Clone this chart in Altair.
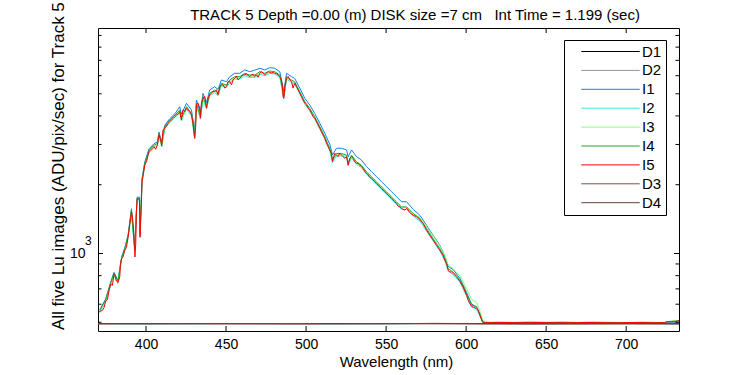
import altair as alt
import pandas as pd

FONT = "Liberation Sans, Arial, Helvetica, sans-serif"

series_names = ["D1", "D2", "I1", "I2", "I3", "I4", "I5", "D3", "D4"]
series_colors = ["#000000", "#969696", "#1080f0", "#40e8f0", "#80ff80",
                 "#18aa28", "#ff0000", "#805048", "#6e3c3c"]

title_text = "TRACK 5 Depth =0.00 (m) DISK size =7 cm\u00a0\u00a0 Int Time = 1.199 (sec)"
x_title = "Wavelength (nm)"
y_title = "All five Lu images (ADU/pix/sec) for Track 5"

x_ticks = [400, 450, 500, 550, 600, 650, 700]
y_major = [1000]
y_minor = [500, 600, 700, 800, 900, 2000, 3000, 4000, 5000, 6000, 7000, 8000, 9000]

# ---- I5 (red), read finely ----
wl_i5 = [
    370.5, 371.1, 372.8, 373.8, 374.8, 375.9, 376.9, 377.9, 379.0, 380.0,
    380.6, 381.5, 382.5, 383.6, 384.0, 384.8, 385.6, 386.7, 387.8, 388.8,
    389.8, 390.9, 391.5, 392.1, 392.9, 393.1, 393.6, 394.0, 394.4, 395.0,
    395.9, 396.3, 396.7, 397.1, 397.5, 398.4, 399.2, 400.3, 401.3, 401.9,
    402.9, 404.0, 405.0, 406.0, 407.1, 408.1, 409.2, 409.8, 410.6, 411.7,
    412.8, 413.8, 414.8, 416.0, 417.1, 418.1, 419.2, 420.3, 421.1, 422.1,
    423.1, 424.2, 425.3, 426.3, 427.3, 428.4, 429.4, 430.0, 430.4, 431.1,
    431.5, 432.5, 433.6, 434.0, 434.6, 435.6, 436.7, 437.8, 438.8, 439.8,
    440.9, 441.9, 442.9, 444.0, 445.0, 446.1, 447.1, 448.1, 449.2, 450.3,
    451.3, 452.3, 453.4, 454.4, 455.4, 456.5, 457.5, 458.6, 459.6, 460.6,
    461.7, 462.8, 463.8, 464.8, 465.9, 466.9, 467.9, 469.0, 470.0, 471.1,
    472.1, 473.1, 474.2, 475.3, 476.3, 477.3, 478.4, 479.4, 480.4, 481.5,
    482.5, 483.6, 484.6, 485.3, 485.6, 486.1, 486.7, 487.8, 488.8, 489.8,
    490.9, 491.9, 492.9, 494.0, 495.0, 496.1, 497.1, 498.1, 499.2, 500.3,
    501.3, 502.3, 503.4, 504.4, 505.4, 506.5, 507.5, 508.6, 509.6, 510.6,
    511.7, 512.8, 513.8, 514.8, 515.9, 516.5, 517.3, 517.9, 519.0, 520.0,
    521.1, 522.1, 523.1, 524.2, 525.3, 526.3, 527.3, 528.4, 529.4, 530.4,
    531.5, 532.5, 533.6, 534.6, 535.6, 536.7, 537.8, 538.8, 539.8, 540.9,
    541.9, 542.9, 544.0, 545.0, 546.1, 547.1, 548.1, 549.2, 550.3, 551.3,
    552.3, 553.4, 554.4, 555.4, 556.5, 557.5, 558.6, 559.6, 560.6, 561.7,
    562.8, 563.8, 564.8, 566.9, 569.0, 571.1, 573.1, 575.3, 577.3, 579.4,
    581.5, 583.6, 585.6, 586.7, 587.8, 588.8, 589.8, 590.9, 591.9, 594.0,
    596.1, 598.1, 600.3, 601.3, 602.3, 603.4, 604.4, 605.4, 606.5, 607.5,
    608.6, 609.6, 610.3, 610.6, 615, 625, 635, 645, 655, 665,
    675, 685, 695, 705, 715, 724, 725, 731, 733,
]
i5 = [
    553, 557, 564, 580, 620, 628, 690, 733, 726, 811,
    798, 758, 746, 790, 898, 951, 966, 1034, 1063, 1182,
    1331, 1522, 1447, 1308, 1034, 966, 1110, 1522, 1713, 1743,
    1713, 1182, 1447, 1657, 2061, 2243, 2439, 2522, 2699, 2790,
    2839, 2888, 2935, 2858, 2985, 3303, 3141, 2955, 3474, 3534,
    3617, 3717, 3777, 3842, 3909, 3973, 4042, 4083, 4179, 3842,
    4251, 4179, 4325, 4251, 4179, 4042, 3717, 3360, 3195, 3654,
    4471, 4549, 4325, 3909, 4549, 4784, 4862, 4325, 4784, 4946,
    5032, 5114, 5114, 5202, 4946, 5378, 5471, 5471, 5292, 5378,
    5656, 5656, 5471, 5754, 5853, 5949, 5754, 5853, 5949, 6053,
    6053, 6096, 6010, 5949, 6053, 6096, 5949, 6053, 5900, 6158,
    6258, 6158, 6053, 6158, 6258, 6195, 6158, 6195, 6158, 6115,
    6053, 5949, 5754, 5378, 4862, 4784, 5378, 5853, 5949, 5754,
    5656, 5292, 5560, 5378, 5202, 5032, 4862, 4703, 4549, 4471,
    4325, 4251, 4110, 3973, 3909, 3777, 3654, 3534, 3417, 3303,
    3195, 3034, 2935, 2839, 2746, 2522, 2653, 2746, 2699, 2653,
    2746, 2699, 2653, 2610, 2653, 2439, 2610, 2653, 2610, 2522,
    2481, 2481, 2439, 2398, 2360, 2280, 2243, 2205, 2154, 2133,
    2097, 2061, 2028, 1993, 1960, 1928, 1895, 1863, 1833, 1802,
    1771, 1743, 1713, 1684, 1657, 1612, 1601, 1575, 1560, 1549,
    1575, 1549, 1510, 1472, 1447, 1400, 1354, 1265, 1203, 1144,
    1087, 1034, 983, 935, 904, 845, 830, 830, 817, 790,
    757, 714, 656, 624, 604, 587, 583, 580, 574, 564,
    536, 514, 501, 498, 498, 499, 498, 499, 498, 498,
    499, 498, 498, 499, 498, 498, 502, 503, 509,
]

# ---- I1..I4, read at a coarser spacing ----
wl_i = [
    371.1, 374.8, 377.9, 380.0, 382.5, 384.8, 386.7, 388.8, 390.9, 392.9,
    394.4, 395.9, 396.3, 397.5, 399.2, 401.9, 405.0, 407.1, 408.1, 409.8,
    411.7, 414.8, 418.1, 421.1, 422.1, 425.3, 428.4, 430.4, 431.5, 434.0,
    435.6, 437.8, 439.8, 442.9, 445.0, 447.1, 450.3, 452.3, 455.4, 458.6,
    461.7, 464.8, 467.9, 471.1, 474.2, 477.3, 480.4, 483.6, 486.1, 487.8,
    490.9, 492.9, 496.1, 499.2, 502.3, 505.4, 508.6, 511.7, 514.8, 516.5,
    519.0, 522.1, 525.3, 526.3, 528.4, 531.5, 534.6, 537.8, 540.9, 544.0,
    547.1, 550.3, 553.4, 556.5, 559.6, 562.8, 566.9, 571.1, 575.3, 579.4,
    583.6, 586.7, 588.8, 591.9, 596.1, 600.3, 603.4, 606.5, 608.6, 610.3,
    612, 615, 620, 630, 640, 650, 660, 670, 680, 690,
    700, 710, 720, 724, 726, 730, 733,
]
i1 = [
    568, 632, 748, 827, 761, 970, 1055, 1206, 1568, 1075,
    1764, 1764, 1240, 2123, 2512, 2874, 3023, 3075, 3402, 3073,
    3640, 3890, 4092, 4388, 4070, 4541, 4244, 3450, 4695, 4140,
    5023, 4580, 5193, 5370, 5220, 5745, 5647, 5939, 6146, 6146,
    6356, 6246, 6340, 6466, 6356, 6505, 6466, 6246, 5100, 6146,
    5939, 5838, 5284, 4776, 4464, 4104, 3711, 3355, 3010, 2700,
    2888, 2888, 2839, 2650, 2839, 2655, 2566, 2400, 2282, 2170,
    2063, 1961, 1865, 1773, 1685, 1685, 1560, 1470, 1328, 1201,
    1086, 972, 879, 850, 780, 676, 601, 585, 541, 503,
    498, 498, 497, 498, 498, 497, 498, 498, 497, 498,
    498, 497, 498, 498, 499, 499, 500,
]
i2 = [
    552, 614, 726, 803, 739, 942, 1024, 1170, 1507, 1024,
    1696, 1696, 1170, 2040, 2415, 2762, 2906, 2955, 3270, 2925,
    3499, 3739, 3933, 4137, 3804, 4282, 4002, 3163, 4426, 3870,
    4736, 4282, 4897, 5063, 4897, 5416, 5324, 5599, 5794, 5794,
    5992, 5890, 5890, 6096, 5992, 6133, 6096, 5890, 4736, 5794,
    5599, 5504, 4982, 4504, 4208, 3870, 3499, 3163, 2811, 2497,
    2672, 2672, 2626, 2415, 2626, 2456, 2374, 2221, 2112, 2008,
    1909, 1815, 1726, 1640, 1559, 1559, 1457, 1386, 1252, 1133,
    1024, 926, 837, 809, 749, 650, 583, 571, 533, 499,
    497, 497, 498, 497, 497, 498, 497, 497, 498, 497,
    497, 498, 497, 497, 498, 498, 499,
]
i3 = [
    557, 620, 735, 810, 748, 955, 1036, 1185, 1530, 1040,
    1720, 1718, 1190, 2068, 2445, 2800, 2940, 2990, 3310, 2960,
    3540, 3785, 3980, 4190, 3850, 4335, 4050, 3200, 4480, 3920,
    4795, 4335, 4960, 5125, 4960, 5485, 5390, 5670, 5865, 5865,
    6065, 5960, 5960, 6170, 6065, 6210, 6170, 5960, 4795, 5865,
    5670, 5570, 5045, 4560, 4260, 3920, 3545, 3205, 2845, 2530,
    2705, 2705, 2660, 2445, 2660, 2488, 2405, 2250, 2140, 2035,
    1935, 1840, 1750, 1665, 1585, 1590, 1500, 1440, 1310, 1190,
    1080, 980, 890, 858, 800, 700, 630, 612, 560, 510,
    503, 500, 503, 499, 505, 500, 504, 499, 503, 500,
    498, 502, 499, 500, 504, 506, 507,
]
i4 = [
    563, 628, 742, 822, 756, 962, 1048, 1198, 1545, 1055,
    1738, 1740, 1210, 2092, 2476, 2832, 2980, 3030, 3352, 3010,
    3587, 3834, 4033, 4242, 3920, 4390, 4103, 3280, 4538, 3980,
    4856, 4400, 5020, 5190, 5020, 5553, 5459, 5741, 5941, 5941,
    6144, 6038, 6038, 6250, 6144, 6288, 6250, 6038, 4870, 5940,
    5741, 5643, 5107, 4617, 4315, 3968, 3587, 3243, 2882, 2570,
    2740, 2740, 2693, 2480, 2693, 2518, 2434, 2277, 2165, 2058,
    1957, 1860, 1769, 1682, 1599, 1599, 1494, 1421, 1284, 1161,
    1050, 949, 858, 829, 768, 666, 596, 583, 544, 503,
    499, 498, 499, 498, 499, 498, 499, 498, 499, 498,
    498, 499, 498, 499, 503, 506, 508,
]

# ---- dark frames ----
wl_dark = [370, 400, 430, 460, 490, 520, 550, 580, 610, 640, 670, 700, 733]
d1 = [493, 492, 493, 494, 493, 492, 493, 494, 493, 492, 493, 493, 492]
d2 = [492, 493, 492, 493, 494, 493, 492, 495, 493, 493, 492, 494, 493]
d3 = [493, 493, 494, 492, 493, 493, 494, 493, 492, 493, 494, 493, 493]
d4 = [493, 494, 493, 493, 492, 494, 493, 493, 494, 493, 492, 493, 494]

series_data = {
    "D1": (wl_dark, d1), "D2": (wl_dark, d2),
    "I1": (wl_i, i1), "I2": (wl_i, i2), "I3": (wl_i, i3), "I4": (wl_i, i4),
    "I5": (wl_i5, i5),
    "D3": (wl_dark, d3), "D4": (wl_dark, d4),
}

frames = []
for name in series_names:
    wl, vals = series_data[name]
    assert len(wl) == len(vals), name
    frames.append(pd.DataFrame({"wl": wl, "val": vals, "series": name}))
df = pd.concat(frames, ignore_index=True)

W, H = 581, 303
x_scale = alt.Scale(domain=[370, 733], nice=False, zero=False)
y_scale = alt.Scale(type="log", domain=[458, 9700], nice=False)
color_scale = alt.Scale(domain=series_names, range=series_colors)

legend = alt.Legend(
    orient="none", legendX=466, legendY=12, title=None,
    symbolType="M-6,0H6", symbolSize=95, symbolStrokeWidth=1,
    symbolOffset=35, labelOffset=24, labelFontSize=15, labelFont=FONT,
    labelColor="black", rowPadding=2.9, padding=4,
    strokeColor="black", fillColor="white", cornerRadius=0,
)

x_axis = alt.Axis(
    values=x_ticks, title=x_title, grid=False, domain=False, ticks=False,
    tickSize=0, labelPadding=6, labelFontSize=14, labelFont=FONT,
    labelColor="black", titleFontSize=15, titleFont=FONT,
    titleFontWeight="normal", titleColor="black", titleX=298, titleY=35,
    titleBaseline="alphabetic", titleAlign="center", format="d",
)
y_axis = alt.Axis(
    values=y_major, labelExpr="'10'", title=None, grid=False, domain=False,
    ticks=False, tickSize=0, labelPadding=13, labelFontSize=14,
    labelFont=FONT, labelColor="black", labelBaseline="middle",
)

X = alt.X("wl:Q", scale=x_scale, axis=x_axis)
Y = alt.Y("val:Q", scale=y_scale, axis=y_axis)

base = alt.Chart(df)
line_layers = []
for name in series_names:
    line_layers.append(
        base.transform_filter(alt.datum.series == name)
        .mark_line(strokeWidth=1, clip=True)
        .encode(
            x=X, y=Y,
            color=alt.Color("series:N", scale=color_scale, legend=legend),
        )
    )

xt = alt.Chart(pd.DataFrame({"wl": x_ticks}))
x_tick_bottom = xt.mark_rule(color="black", strokeWidth=1).encode(
    x=X, y=alt.value(H), y2=alt.value(H - 5))
x_tick_top = xt.mark_rule(color="black", strokeWidth=1).encode(
    x=X, y=alt.value(0), y2=alt.value(5))

ymaj = alt.Chart(pd.DataFrame({"val": y_major}))
ymin = alt.Chart(pd.DataFrame({"val": y_minor}))
y_layers = []
for src, ln in ((ymaj, 5), (ymin, 3.5)):
    y_layers.append(src.mark_rule(color="black", strokeWidth=1).encode(
        y=Y, x=alt.value(0), x2=alt.value(ln)))
    y_layers.append(src.mark_rule(color="black", strokeWidth=1).encode(
        y=Y, x=alt.value(W), x2=alt.value(W - ln)))

one = alt.Chart(pd.DataFrame({"k": [0]}))
title_mark = one.mark_text(
    text=title_text, font=FONT, fontSize=15, color="black",
    align="center", baseline="alphabetic",
).encode(x=alt.value(317), y=alt.value(-8.5))
ytitle_mark = one.mark_text(
    text=y_title, font=FONT, fontSize=17, color="black", angle=270,
    align="left", baseline="alphabetic",
).encode(x=alt.value(-34), y=alt.value(302))
sup_mark = one.mark_text(
    text="3", font=FONT, fontSize=12, color="black",
    align="left", baseline="middle",
).encode(x=alt.value(-13), y=alt.value(212.5))

chart = alt.layer(
    *line_layers, x_tick_bottom, x_tick_top, *y_layers,
    title_mark, ytitle_mark, sup_mark,
).properties(
    width=W, height=H,
    padding={"left": 98, "top": 28, "right": 71, "bottom": 44},
    autosize=alt.AutoSizeParams(type="none"),
    background="white",
).configure_view(stroke="black", strokeWidth=1)

chart.save("out.html", embed_options={"renderer": "svg", "actions": False})
